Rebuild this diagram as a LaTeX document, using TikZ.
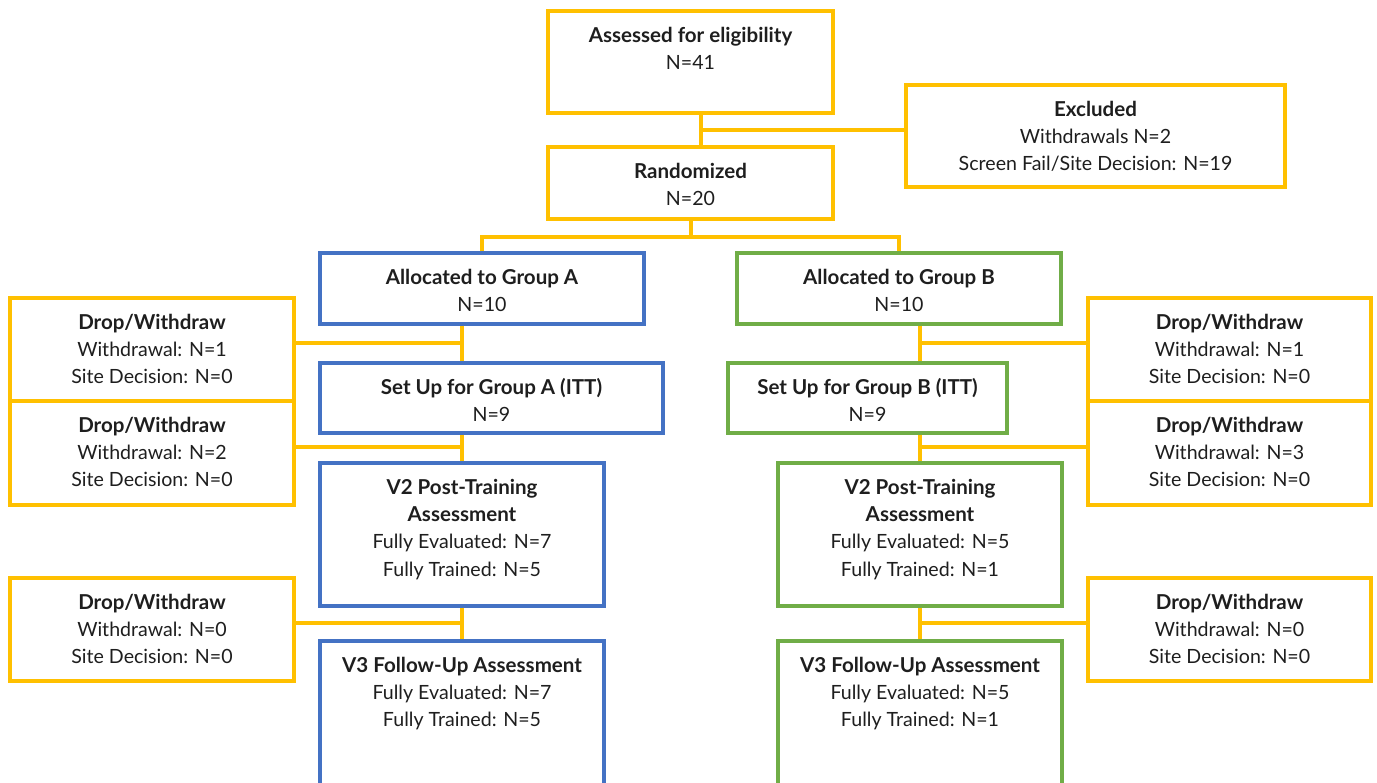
\documentclass[tikz,border=0pt]{standalone}
\usepackage{fontspec}
\setmainfont{Lato}
\usetikzlibrary{calc}

\definecolor{gold}{HTML}{FFC000}
\definecolor{blueA}{HTML}{4472C4}
\definecolor{greenB}{HTML}{70AD47}
\definecolor{ink}{HTML}{1E1E1E}

\tikzset{
  box/.style={draw=#1, line width=2.3pt, rectangle, inner sep=0pt},
  conn/.style={draw=gold, line width=2.3pt, line join=miter},
  txt/.style={anchor=north, align=center, inner sep=0pt,
              font=\fontsize{14.7}{20.5}\selectfont, text=ink},
}

% \bx{name}{colour}{x1}{y1}{x2}{y2}: a framed box between two corners (pixel units)
\newcommand\bx[6]{%
  \node[box=#2, minimum width={(#5-#3)*0.75pt}, minimum height={(#6-#4)*0.75pt}]
    (#1) at ({(#3+#5)/2},{(#4+#6)/2}) {};}
% bold heading lines; the first one carries a fixed strut
\newcommand\hb[1]{{\fontsize{15.4}{20.5}\selectfont\bfseries #1}}
\newcommand\hd[1]{\rule{0pt}{13pt}\hb{#1}}

\begin{document}
\begin{tikzpicture}[x=0.75pt, y=-0.75pt]
  \useasboundingbox (0,0) rectangle (1377,782);
  \clip (0,0) rectangle (1377,782);

  % ---- boxes ----
  \bx{assess}{gold}{548}{11}{833}{113}
  \bx{excl}{gold}{906}{85}{1285}{187}
  \bx{rand}{gold}{548}{147}{833}{219}
  \bx{grpA}{blueA}{320}{253}{644}{324}
  \bx{grpB}{greenB}{737}{253}{1061}{324}
  \bx{dropLa}{gold}{10}{298}{294}{401}
  \bx{dropLb}{gold}{10}{401}{294}{505}
  \bx{dropLc}{gold}{10}{578}{294}{681}
  \bx{dropRa}{gold}{1088}{298}{1371}{401}
  \bx{dropRb}{gold}{1088}{401}{1371}{505}
  \bx{dropRc}{gold}{1088}{578}{1371}{681}
  \bx{setA}{blueA}{320}{363}{663}{433}
  \bx{setB}{greenB}{728}{363}{1007}{433}
  \bx{vtwoA}{blueA}{320}{463}{604}{606}
  \bx{vtwoB}{greenB}{778}{463}{1062}{606}
  \bx{vthreeA}{blueA}{320}{641}{604}{810}
  \bx{vthreeB}{greenB}{778}{641}{1062}{810}

  % ---- texts ----
  \def\dy{-11.3pt}
  \node[txt] (assess-t) at ([yshift=\dy]assess.north) {\hd{Assessed for eligibility}\\N=41};
  \node[txt] (excl-t) at ([yshift=\dy]excl.north) {\hd{Excluded}\\Withdrawals N=2\\Screen Fail/Site Decision: N=19};
  \node[txt] (rand-t) at ([yshift=\dy]rand.north) {\hd{Randomized}\\N=20};
  \node[txt] (grpA-t) at ([yshift=\dy]grpA.north) {\hd{Allocated to Group A}\\N=10};
  \node[txt] (grpB-t) at ([yshift=\dy]grpB.north) {\hd{Allocated to Group B}\\N=10};
  \node[txt] (dropLa-t) at ([yshift=\dy]dropLa.north) {\hd{Drop/Withdraw}\\Withdrawal: N=1\\Site Decision: N=0};
  \node[txt] (dropLb-t) at ([yshift=\dy]dropLb.north) {\hd{Drop/Withdraw}\\Withdrawal: N=2\\Site Decision: N=0};
  \node[txt] (dropLc-t) at ([yshift=\dy]dropLc.north) {\hd{Drop/Withdraw}\\Withdrawal: N=0\\Site Decision: N=0};
  \node[txt] (dropRa-t) at ([yshift=\dy]dropRa.north) {\hd{Drop/Withdraw}\\Withdrawal: N=1\\Site Decision: N=0};
  \node[txt] (dropRb-t) at ([yshift=\dy]dropRb.north) {\hd{Drop/Withdraw}\\Withdrawal: N=3\\Site Decision: N=0};
  \node[txt] (dropRc-t) at ([yshift=\dy]dropRc.north) {\hd{Drop/Withdraw}\\Withdrawal: N=0\\Site Decision: N=0};
  \node[txt] (setA-t) at ([yshift=\dy]setA.north) {\hd{Set Up for Group A (ITT)}\\N=9};
  \node[txt] (setB-t) at ([yshift=\dy]setB.north) {\hd{Set Up for Group B (ITT)}\\N=9};
  \node[txt] (vtwoA-t) at ([yshift=\dy]vtwoA.north) {\hd{V2 Post-Training}\\\hb{Assessment}\\Fully Evaluated: N=7\\Fully Trained: N=5};
  \node[txt] (vtwoB-t) at ([yshift=\dy]vtwoB.north) {\hd{V2 Post-Training}\\\hb{Assessment}\\Fully Evaluated: N=5\\Fully Trained: N=1};
  \node[txt] (vthreeA-t) at ([yshift=\dy]vthreeA.north) {\hd{V3 Follow-Up Assessment}\\Fully Evaluated: N=7\\Fully Trained: N=5};
  \node[txt] (vthreeB-t) at ([yshift=\dy]vthreeB.north) {\hd{V3 Follow-Up Assessment}\\Fully Evaluated: N=5\\Fully Trained: N=1};

  % ---- guide coordinates for the connector lines ----
  \coordinate (topx) at (701,130);
  \coordinate (splitx) at (691,237);
  \coordinate (leftx) at (482,237);
  \coordinate (rightx) at (899,237);
  \coordinate (colA) at (462,0);
  \coordinate (colB) at (920,0);
  \coordinate (rowa) at (0,343);
  \coordinate (rowb) at (0,447);
  \coordinate (rowc) at (0,623);

  % ---- connectors ----
  \draw[conn] (assess.south -| topx) -- (rand.north -| topx);
  \draw[conn] (topx) -- (excl.west |- topx);

  \draw[conn] (rand.south -| splitx) -- (splitx);
  \draw[conn] (grpA.north -| leftx) -- (leftx) -- (rightx) -- (grpB.north -| rightx);

  \draw[conn] (grpA.south -| colA) -- (setA.north -| colA);
  \draw[conn] (setA.south -| colA) -- (vtwoA.north -| colA);
  \draw[conn] (vtwoA.south -| colA) -- (vthreeA.north -| colA);
  \draw[conn] (dropLa.east |- rowa) -- (colA |- rowa);
  \draw[conn] (dropLb.east |- rowb) -- (colA |- rowb);
  \draw[conn] (dropLc.east |- rowc) -- (colA |- rowc);

  \draw[conn] (grpB.south -| colB) -- (setB.north -| colB);
  \draw[conn] (setB.south -| colB) -- (vtwoB.north -| colB);
  \draw[conn] (vtwoB.south -| colB) -- (vthreeB.north -| colB);
  \draw[conn] (dropRa.west |- rowa) -- (colB |- rowa);
  \draw[conn] (dropRb.west |- rowb) -- (colB |- rowb);
  \draw[conn] (dropRc.west |- rowc) -- (colB |- rowc);
\end{tikzpicture}
\end{document}
